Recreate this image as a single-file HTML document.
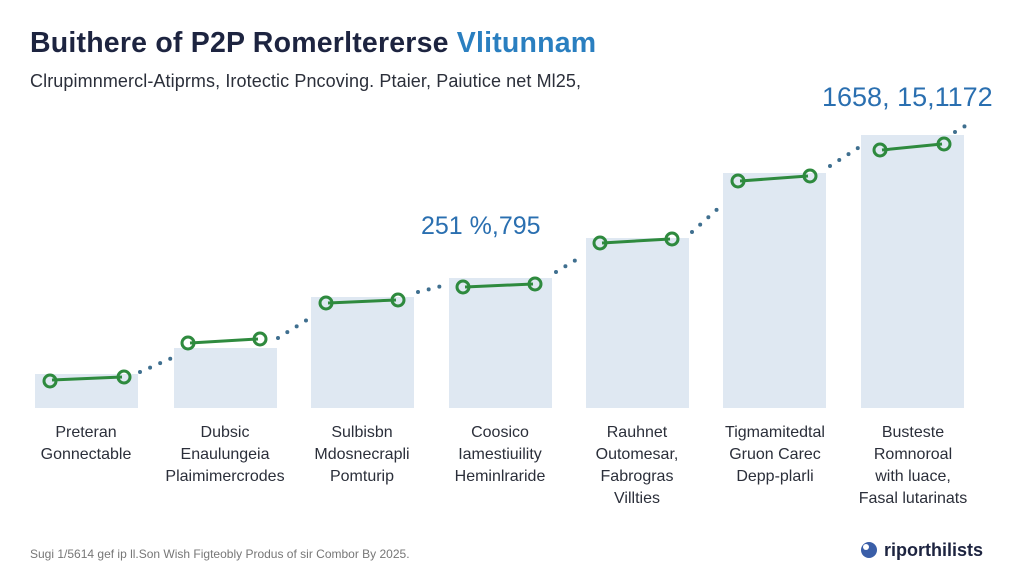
<!DOCTYPE html>
<html><head><meta charset="utf-8"><style>
body{margin:0;width:1024px;height:576px;background:#fff;font-family:"Liberation Sans",sans-serif;position:relative;overflow:hidden}
.t{position:absolute;white-space:nowrap}
.bar{position:absolute;background:#dfe8f2;width:103px}
.lab{position:absolute;width:160px;text-align:center;font-size:16px;line-height:22px;color:#2b2f3a}
</style></head><body>
<div class="t" style="left:30px;top:27px;font-size:28.5px;font-weight:bold;color:#1d2440;letter-spacing:0.2px">Buithere of P2P Romerltererse <span style="color:#2a7fc0">Vlitunnam</span></div>
<div class="t" style="left:30px;top:71px;font-size:18px;color:#2b2f3a;letter-spacing:0.1px">Clrupimnmercl-Atiprms, Irotectic Pncoving. Ptaier, Paiutice net Ml25,</div>
<div class="t" style="left:822px;top:82px;font-size:27px;color:#2a6fb0">1658, 15,1172</div>
<div class="t" style="left:421px;top:212px;font-size:25px;color:#2a6fb0">251 %,795</div>

<div class="bar" style="left:35px;top:374px;height:34px"></div>
<div class="bar" style="left:174px;top:348px;height:60px"></div>
<div class="bar" style="left:311px;top:297px;height:111px"></div>
<div class="bar" style="left:449px;top:278px;height:130px"></div>
<div class="bar" style="left:586px;top:238px;height:170px"></div>
<div class="bar" style="left:723px;top:173px;height:235px"></div>
<div class="bar" style="left:861px;top:135px;height:273px"></div>

<svg style="position:absolute;left:0;top:0" width="1024" height="576">
<g stroke="#3f6f8f" stroke-width="4" stroke-linecap="round" stroke-dasharray="0 11" fill="none">
<line x1="140" y1="372" x2="172" y2="358"/>
<line x1="278" y1="338" x2="310" y2="318"/>
<line x1="418" y1="292" x2="446" y2="285"/>
<line x1="556" y1="272" x2="584" y2="255"/>
<line x1="692" y1="232" x2="722" y2="205"/>
<line x1="830" y1="166" x2="858" y2="148"/>
<line x1="955" y1="132" x2="972" y2="122"/>
</g>
<g stroke="#2e8a3e" stroke-width="3" fill="none">
<line x1="52" y1="380" x2="122" y2="377"/><circle cx="50" cy="381" r="6"/><circle cx="124" cy="377" r="6"/>
<line x1="190" y1="343" x2="258" y2="339"/><circle cx="188" cy="343" r="6"/><circle cx="260" cy="339" r="6"/>
<line x1="328" y1="303" x2="396" y2="300"/><circle cx="326" cy="303" r="6"/><circle cx="398" cy="300" r="6"/>
<line x1="465" y1="287" x2="533" y2="284"/><circle cx="463" cy="287" r="6"/><circle cx="535" cy="284" r="6"/>
<line x1="602" y1="243" x2="670" y2="239"/><circle cx="600" cy="243" r="6"/><circle cx="672" cy="239" r="6"/>
<line x1="740" y1="181" x2="808" y2="176"/><circle cx="738" cy="181" r="6"/><circle cx="810" cy="176" r="6"/>
<line x1="882" y1="150" x2="942" y2="144"/><circle cx="880" cy="150" r="6"/><circle cx="944" cy="144" r="6"/>
</g>
<circle cx="869" cy="550" r="8" fill="#3a5ea8"/><circle cx="866" cy="547" r="3" fill="#fff"/>
</svg>

<div class="lab" style="left:6px;top:422px">Preteran<br>Gonnectable</div>
<div class="lab" style="left:145px;top:422px">Dubsic<br>Enaulungeia<br>Plaimimercrodes</div>
<div class="lab" style="left:282px;top:422px">Sulbisbn<br>Mdosnecrapli<br>Pomturip</div>
<div class="lab" style="left:420px;top:422px">Coosico<br>Iamestiuility<br>Heminlraride</div>
<div class="lab" style="left:557px;top:422px">Rauhnet<br>Outomesar,<br>Fabrogras<br>Villties</div>
<div class="lab" style="left:695px;top:422px">Tigmamitedtal<br>Gruon Carec<br>Depp-plarli</div>
<div class="lab" style="left:833px;top:422px">Busteste<br>Romnoroal<br>with luace,<br>Fasal lutarinats</div>

<div class="t" style="left:30px;top:547px;font-size:12px;color:#777">Sugi 1/5614 gef ip ll.Son Wish Figteobly Produs of sir Combor By 2025.</div>
<div class="t" style="left:884px;top:540px;font-size:18px;font-weight:bold;color:#1d2440">riporthilists</div>
</body></html>
